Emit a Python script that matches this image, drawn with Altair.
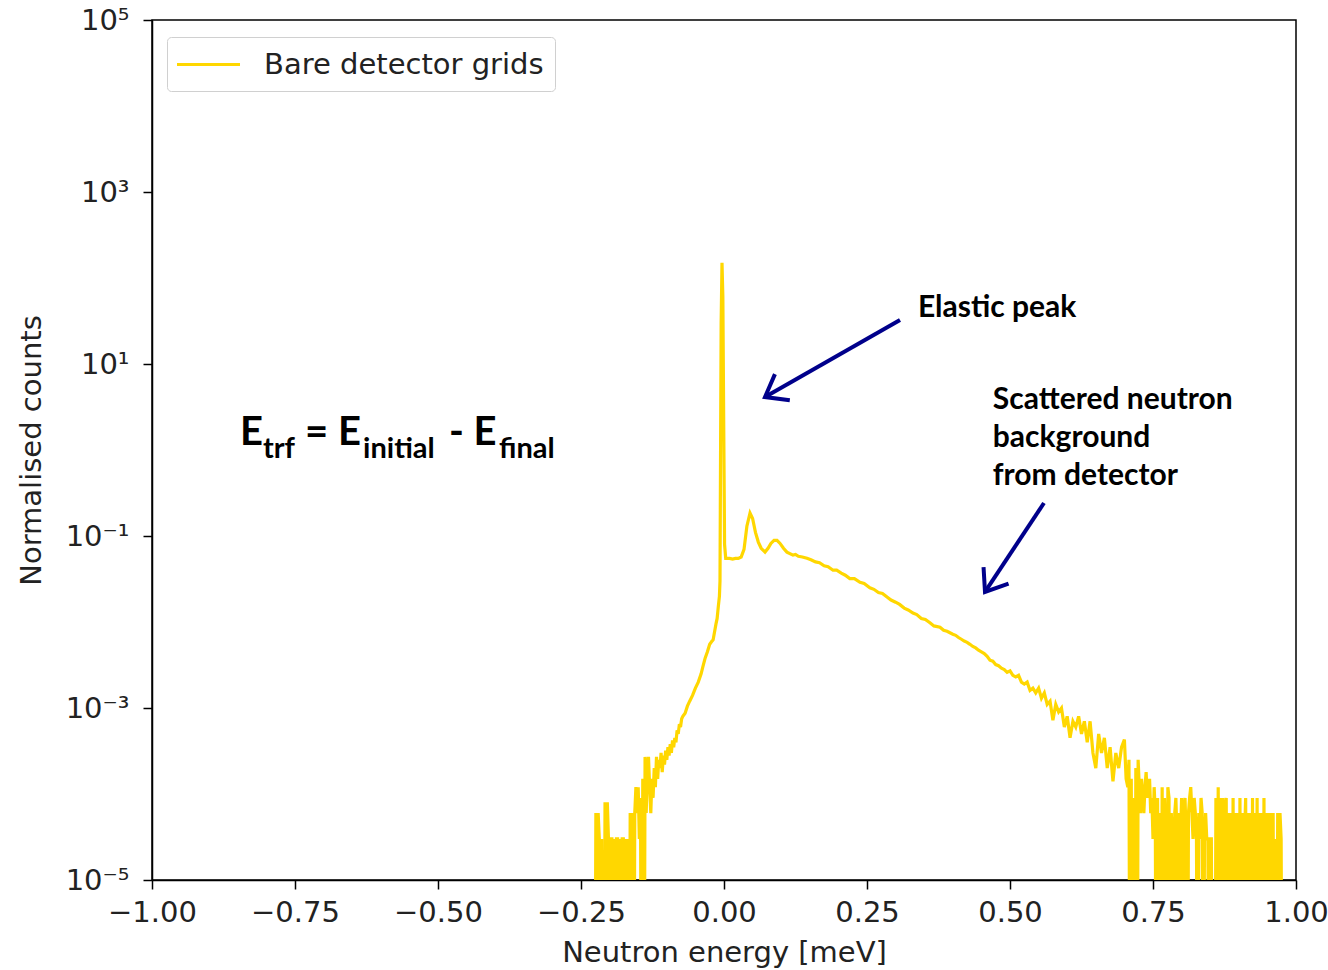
import altair as alt
import pandas as pd

# ---------------- data ----------------
# left noisy wing (energy in meV, counts in units of 1e-5; 0 = empty bin)
left_energy = [-0.226, -0.224, -0.222, -0.220, -0.218, -0.216, -0.214, -0.212, -0.210, -0.208,
               -0.206, -0.204, -0.202, -0.200, -0.198, -0.196, -0.194, -0.192, -0.190, -0.188,
               -0.186, -0.184, -0.182, -0.180, -0.178, -0.176, -0.174, -0.172, -0.170, -0.168,
               -0.166, -0.164, -0.162, -0.160, -0.158, -0.156, -0.154, -0.152, -0.150, -0.148,
               -0.146, -0.144, -0.142, -0.140, -0.138, -0.136, -0.134, -0.132, -0.130, -0.128,
               -0.126, -0.124, -0.122, -0.120, -0.118, -0.116, -0.114, -0.112, -0.110, -0.108,
               -0.106, -0.104, -0.102, -0.100, -0.098, -0.096, -0.094, -0.092, -0.090, -0.088,
               -0.086, -0.084, -0.082, -0.080, -0.078, -0.076, -0.074, -0.072]
left_counts_e5 = [0, 6, 0, 6, 3, 0, 3, 0, 0, 8,
                  0, 8, 3, 0, 3, 3, 0, 3, 0, 3,
                  3, 0, 3, 0, 3, 3, 0, 3, 0, 3,
                  0, 6, 3, 6, 0, 6, 12, 6, 12, 3,
                  9, 0, 15, 0, 27, 6, 20, 27, 12, 6,
                  15, 9, 20, 12, 27, 15, 25, 20, 30, 18,
                  28, 22, 32, 25, 35, 28, 38, 30, 42, 35,
                  45, 40, 55, 50, 65, 60, 75, 80]

# rising edge, elastic peak and inelastic background (counts)
main_energy = [-0.068, -0.064, -0.060, -0.055, -0.050, -0.045, -0.040, -0.037, -0.033, -0.029,
               -0.025, -0.021, -0.019, -0.016, -0.014, -0.012, -0.010, -0.008, -0.007, -0.005,
               -0.0035, -0.002, -0.0005, 0.001, 0.003, 0.005, 0.010, 0.015, 0.020, 0.025,
               0.030, 0.035, 0.040, 0.0455, 0.050, 0.055, 0.060, 0.065, 0.0717, 0.077,
               0.082, 0.0875, 0.0927, 0.098, 0.104, 0.110, 0.1206, 0.125, 0.130, 0.137,
               0.1451, 0.152, 0.160, 0.167, 0.175, 0.182, 0.1906, 0.197, 0.205, 0.212,
               0.220, 0.228, 0.2378, 0.245, 0.255, 0.262, 0.270, 0.277, 0.285, 0.292,
               0.300, 0.307, 0.315, 0.322, 0.3304, 0.337, 0.345, 0.352, 0.360, 0.367,
               0.3776, 0.384, 0.390, 0.400, 0.405, 0.410, 0.415, 0.420,
               0.425, 0.430, 0.435, 0.440, 0.445, 0.450, 0.455, 0.460, 0.465, 0.470,
               0.475, 0.480, 0.485, 0.490, 0.495, 0.500, 0.505, 0.510, 0.515, 0.520,
               0.525, 0.530, 0.535, 0.540, 0.545, 0.550, 0.555, 0.560, 0.565, 0.570,
               0.575, 0.580, 0.585, 0.590, 0.595, 0.600, 0.605, 0.610, 0.615, 0.620,
               0.625, 0.630, 0.635, 0.640, 0.645, 0.650, 0.655, 0.660, 0.665, 0.670,
               0.675, 0.680, 0.685, 0.690, 0.695, 0.700, 0.703]
main_counts = [0.00087, 0.00105, 0.0012, 0.00140, 0.0017, 0.0020, 0.0025, 0.0030, 0.0038, 0.0045,
               0.0055, 0.0060, 0.0062, 0.0080, 0.0095, 0.0110, 0.0150, 0.0200, 0.03, 30.0,
               150.0, 60.0, 2.0, 0.08, 0.055, 0.055, 0.055, 0.054, 0.055, 0.055,
               0.057, 0.070, 0.130, 0.185, 0.160, 0.110, 0.085, 0.072, 0.065, 0.072,
               0.082, 0.089, 0.089, 0.082, 0.072, 0.065, 0.060, 0.061, 0.058, 0.057,
               0.055, 0.053, 0.050, 0.049, 0.045, 0.044, 0.040, 0.040, 0.037, 0.035,
               0.032, 0.032, 0.029, 0.028, 0.025, 0.024, 0.022, 0.0215, 0.0195, 0.018,
               0.017, 0.016, 0.0145, 0.0138, 0.0127, 0.0122, 0.011, 0.0107, 0.0098, 0.0090,
               0.0087, 0.0080, 0.0078, 0.0072, 0.0070, 0.0066, 0.0063, 0.0060,
               0.0058, 0.0055, 0.0052, 0.0050, 0.0047, 0.0045, 0.0043, 0.0040, 0.0036, 0.0035,
               0.0032, 0.0031, 0.0029, 0.0028, 0.0026, 0.0027, 0.0024, 0.0023, 0.0024, 0.0020,
               0.0019, 0.0020, 0.0016, 0.0017, 0.0015, 0.0017, 0.0013, 0.0015, 0.0011, 0.0012,
               0.00072, 0.0011, 0.0009, 0.0010, 0.0006, 0.0008, 0.00045, 0.0007, 0.0006, 0.0008,
               0.0005, 0.0007, 0.0004, 0.0007, 0.0003, 0.0002, 0.0005, 0.0003, 0.00045, 0.0002,
               0.00035, 0.00014, 0.0003, 0.0002, 0.00035, 0.00043, 0.00015]

# right noisy tail (counts in units of 1e-5; 0 = empty bin)
right_energy = [0.706, 0.708, 0.710, 0.712, 0.714, 0.716, 0.718, 0.720, 0.722, 0.724,
                0.726, 0.728, 0.730, 0.732, 0.734, 0.736, 0.738, 0.740, 0.742, 0.744,
                0.746, 0.748, 0.750, 0.752, 0.754, 0.756, 0.758, 0.760, 0.762, 0.764,
                0.766, 0.768, 0.770, 0.772, 0.774, 0.776, 0.778, 0.780, 0.782, 0.784,
                0.786, 0.788, 0.790, 0.792, 0.794, 0.796, 0.798, 0.800, 0.802, 0.804,
                0.806, 0.808, 0.810, 0.812, 0.814, 0.816, 0.818, 0.820, 0.822, 0.824,
                0.826, 0.828, 0.830, 0.832, 0.834, 0.836, 0.838, 0.840, 0.842, 0.844,
                0.846, 0.848, 0.850, 0.852, 0.854, 0.856, 0.858, 0.860, 0.862, 0.864,
                0.866, 0.868, 0.870, 0.872, 0.874, 0.876, 0.878, 0.880, 0.882, 0.884,
                0.886, 0.888, 0.890, 0.892, 0.894, 0.896, 0.898, 0.900, 0.902, 0.904,
                0.906, 0.908, 0.910, 0.912, 0.914, 0.916, 0.918, 0.920, 0.922, 0.924,
                0.926, 0.928, 0.930, 0.932, 0.934, 0.936, 0.938, 0.940, 0.942, 0.944,
                0.946, 0.948, 0.950, 0.952, 0.954, 0.956, 0.958, 0.960, 0.962, 0.964,
                0.966, 0.968, 0.970, 0.972, 0.974, 0.976]
right_counts_e5 = [12, 25, 0, 15, 0, 9, 0, 20, 0, 25,
                   12, 6, 15, 9, 6, 12, 18, 9, 12, 15,
                   6, 9, 3, 12, 6, 0, 9, 0, 6, 0,
                   12, 0, 9, 3, 0, 12, 9, 0, 6, 3,
                   0, 6, 9, 3, 0, 6, 3, 9, 0, 6,
                   9, 3, 0, 6, 9, 12, 6, 3, 9, 6,
                   3, 0, 6, 3, 9, 6, 0, 3, 6, 3,
                   3, 0, 3, 3, 0, 0, 0, 9, 0, 12,
                   0, 9, 0, 9, 0, 6, 9, 0, 6, 0,
                   6, 0, 9, 0, 6, 0, 6, 0, 9, 0,
                   6, 0, 3, 9, 0, 6, 0, 6, 0, 9,
                   0, 6, 0, 9, 0, 6, 0, 6, 0, 9,
                   0, 6, 0, 6, 0, 6, 0, 6, 0, 3,
                   0, 6, 0, 6, 3, 0]

series_name = "Bare detector grids"
line_color = "#FFD700"
arrow_color = "#00008B"

x_ticks = [-1.0, -0.75, -0.5, -0.25, 0.0, 0.25, 0.5, 0.75, 1.0]
y_ticks = [1e-5, 1e-3, 1e-1, 1e1, 1e3, 1e5]

# annotations (placed in data coordinates)
label_text = ["Elastic peak", "Scattered neutron", "background", "from detector"]
label_x = [0.339, 0.470, 0.470, 0.470]
label_y = [44.8, 3.81, 1.379, 0.499]

eq_main_text = ["E", "= E", "- E"]
eq_main_x = [-0.846, -0.7325, -0.4808]
eq_sub_text = ["trf", "initial", "final"]
eq_sub_x = [-0.806, -0.631, -0.3934]
eq_main_y = 1.143
eq_sub_y = 0.80

arrow_x1 = [0.3077, 0.5594]
arrow_y1 = [32.5, 0.242]
arrow_x2 = [0.0717, 0.4563]
arrow_y2 = [4.13, 0.02234]
arrow_angle = [150.3, 123.5]

# ---------------- build tables ----------------
FLOOR = 1e-8  # empty bins fall below the axis (clipped), as on a log plot
energy = left_energy + main_energy + right_energy
counts = ([c * 1e-5 if c > 0 else FLOOR for c in left_counts_e5]
          + main_counts
          + [c * 1e-5 if c > 0 else FLOOR for c in right_counts_e5])
df = pd.DataFrame({"energy": energy, "counts": counts, "series": series_name})

df_lab = pd.DataFrame({"x": label_x, "y": label_y, "t": label_text})
df_eqm = pd.DataFrame({"x": eq_main_x, "y": [eq_main_y] * 3, "t": eq_main_text})
df_eqs = pd.DataFrame({"x": eq_sub_x, "y": [eq_sub_y] * 3, "t": eq_sub_text})
df_arr = pd.DataFrame({"x": arrow_x1, "y": arrow_y1, "x2": arrow_x2, "y2": arrow_y2,
                       "angle": arrow_angle})

FONT = "DejaVu Sans"
xscale = alt.Scale(domain=[-1, 1], nice=False, zero=False)
yscale = alt.Scale(type="log", domain=[1e-5, 1e5], nice=False)

label_expr = ("datum.value < 1e-4 ? '10\u207b\u2075' : datum.value < 1e-2 ? '10\u207b\u00b3' : "
              "datum.value < 1 ? '10\u207b\u00b9' : datum.value < 100 ? '10\u00b9' : "
              "datum.value < 1e4 ? '10\u00b3' : '10\u2075'")

line = alt.Chart(df).mark_line(clip=True, strokeWidth=3.2, strokeJoin="miter").encode(
    x=alt.X("energy:Q", scale=xscale,
            axis=alt.Axis(values=x_ticks, format=".2f", title="Neutron energy [meV]",
                          grid=False, labelFontSize=29, titleFontSize=29, labelFont=FONT,
                          titleFont=FONT, titleFontWeight="normal", tickSize=9, tickWidth=1.5,
                          domainWidth=1.5, domainColor="black", tickColor="black",
                          labelColor="#222222", titleColor="#222222", labelPadding=9,
                          titlePadding=11, labelFlush=False)),
    y=alt.Y("counts:Q", scale=yscale,
            axis=alt.Axis(values=y_ticks, labelExpr=label_expr, title="Normalised counts",
                          grid=False, labelFontSize=29, titleFontSize=29, labelFont=FONT,
                          titleFont=FONT, titleFontWeight="normal", tickSize=9, tickWidth=1.5,
                          domainWidth=1.5, domainColor="black", tickColor="black",
                          labelColor="#222222", titleColor="#222222", labelPadding=14,
                          titlePadding=19, labelFlush=False)),
    color=alt.Color("series:N", scale=alt.Scale(range=[line_color]),
                    legend=alt.Legend(title=None, orient="none", legendX=15, legendY=17,
                                      symbolType="M -2.1 0 L 2.1 0", symbolSize=900,
                                      symbolStrokeWidth=3, symbolOffset=14,
                                      labelFontSize=29, labelFont=FONT, labelLimit=0,
                                      labelColor="#222222", labelOffset=39, padding=11,
                                      fillColor="white", strokeColor="#d0d0d0",
                                      cornerRadius=4)),
)

labels = alt.Chart(df_lab).mark_text(font="Lato", fontWeight="bold", fontSize=30,
                                     align="left", baseline="middle", color="black").encode(
    x=alt.X("x:Q", scale=xscale), y=alt.Y("y:Q", scale=yscale), text="t:N")

eq_main = alt.Chart(df_eqm).mark_text(font="Lato", fontWeight="bold", fontSize=40,
                                      align="left", baseline="alphabetic", color="black").encode(
    x=alt.X("x:Q", scale=xscale), y=alt.Y("y:Q", scale=yscale), text="t:N")

eq_sub = alt.Chart(df_eqs).mark_text(font="Lato", fontWeight="bold", fontSize=29,
                                     align="left", baseline="alphabetic", color="black").encode(
    x=alt.X("x:Q", scale=xscale), y=alt.Y("y:Q", scale=yscale), text="t:N")

shafts = alt.Chart(df_arr).mark_rule(color=arrow_color, strokeWidth=4).encode(
    x=alt.X("x:Q", scale=xscale), y=alt.Y("y:Q", scale=yscale), x2="x2:Q", y2="y2:Q")

heads = alt.Chart(df_arr).mark_point(shape="M -1 -0.75 L 0 0 L -1 0.75", filled=False,
                                     size=1600, strokeWidth=4, color=arrow_color,
                                     opacity=1).encode(
    x=alt.X("x2:Q", scale=xscale), y=alt.Y("y2:Q", scale=yscale),
    angle=alt.Angle("angle:Q", scale=None))

chart = alt.layer(line, shafts, heads, labels, eq_main, eq_sub).properties(
    width=1144, height=860,
    autosize=alt.AutoSizeParams(type="none"),
    padding={"left": 152, "top": 20, "right": 32, "bottom": 90},
    background="white",
).configure_view(stroke="black", strokeWidth=1.5)

chart.save("out.html", embed_options={"renderer": "svg", "actions": False})
